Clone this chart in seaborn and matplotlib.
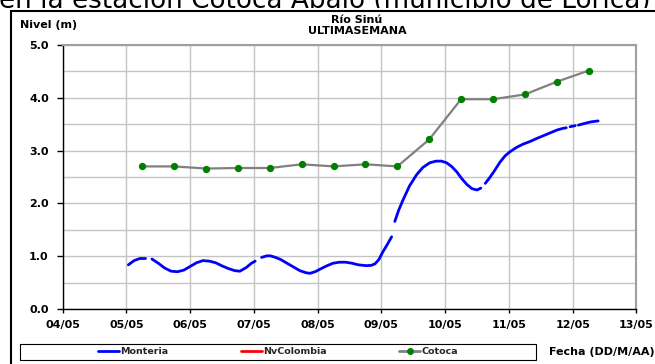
import numpy as np
import pandas as pd
import matplotlib
matplotlib.use("Agg")
import matplotlib.pyplot as plt
from matplotlib.patches import Rectangle
from matplotlib.lines import Line2D
import seaborn as sns

# Days of May shown on the x axis
day_ticks = [4, 5, 6, 7, 8, 9, 10, 11, 12, 13]
day_labels = ["04/05", "05/05", "06/05", "07/05", "08/05",
              "09/05", "10/05", "11/05", "12/05", "13/05"]
level_ticks = [0, 1, 2, 3, 4, 5]
level_labels = ["0.0", "1.0", "2.0", "3.0", "4.0", "5.0"]

# Montería gauge: fractional day, level (m), and run id (a new run after each gap)
mon_day = [5.03, 5.12, 5.21, 5.30,
           5.40, 5.50, 5.60, 5.70, 5.80, 5.90, 6.00, 6.10, 6.20, 6.30, 6.40,
           6.50, 6.60, 6.70, 6.78, 6.88, 6.96, 7.02,
           7.12, 7.20, 7.26, 7.34, 7.42, 7.52, 7.62, 7.72, 7.82, 7.88, 7.96,
           8.04, 8.14, 8.24, 8.34, 8.44, 8.54, 8.64, 8.76, 8.84, 8.90, 8.96,
           9.02, 9.09, 9.16,
           9.21, 9.27, 9.34, 9.44, 9.55, 9.65, 9.76, 9.86, 9.94, 10.02, 10.10,
           10.18, 10.26, 10.34, 10.42, 10.50, 10.56,
           10.63, 10.70, 10.78, 10.86, 10.94, 11.02, 11.12, 11.22, 11.33, 11.44,
           11.54, 11.66, 11.76, 11.85, 11.90,
           11.96, 12.04,
           12.09, 12.18, 12.28, 12.40]
mon_level = [0.84, 0.92, 0.96, 0.96,
             0.95, 0.87, 0.78, 0.72, 0.71, 0.74, 0.81, 0.88, 0.92, 0.91, 0.88,
             0.82, 0.77, 0.73, 0.72, 0.79, 0.87, 0.91,
             0.98, 1.01, 1.01, 0.98, 0.94, 0.87, 0.80, 0.73, 0.69, 0.68, 0.71,
             0.76, 0.82, 0.87, 0.89, 0.89, 0.87, 0.84, 0.825, 0.83, 0.86, 0.94,
             1.08, 1.22, 1.37,
             1.66, 1.87, 2.07, 2.33, 2.54, 2.68, 2.77, 2.80, 2.80, 2.77, 2.70,
             2.60, 2.47, 2.36, 2.28, 2.255, 2.29,
             2.38, 2.49, 2.63, 2.78, 2.90, 2.98, 3.06, 3.12, 3.17, 3.23,
             3.28, 3.34, 3.39, 3.42, 3.43,
             3.45, 3.47,
             3.48, 3.51, 3.54, 3.56]
mon_run = ([1] * 4 + [2] * 18 + [3] * 25 + [4] * 17 + [5] * 15 + [6] * 2 + [7] * 4)

# Cotoca gauge: readings at 06:00 and 18:00
cot_day = [5.25, 5.75, 6.25, 6.75, 7.25, 7.75, 8.25, 8.75,
           9.25, 9.75, 10.25, 10.75, 11.25, 11.75, 12.25]
cot_level = [2.70, 2.70, 2.66, 2.67, 2.67, 2.74, 2.70, 2.74,
             2.70, 3.21, 3.97, 3.97, 4.06, 4.30, 4.51]

series_names = ["Monteria", "NvColombia", "Cotoca"]
series_colors = ["#0000ff", "#ff0000", "#808080"]
marker_color = "#008000"

sns.set_theme(style="white")
plt.rcParams["font.family"] = ["DejaVu Sans"]

W, H = 655, 364
fig = plt.figure(figsize=(W / 100, H / 100), dpi=100)
fig.patch.set_facecolor("white")


def fx(px):
    return px / W


def fy(py):
    return 1 - py / H


# Page heading above the chart, partly hidden by the chart frame
fig.text(fx(-1), fy(8.5), "en la estación Cotoca Abajo (municipio de Lorica)",
         fontsize=18.9, ha="left", va="baseline", color="black", zorder=1)
fig.add_artist(Rectangle((0, 0), 1, fy(8.3), transform=fig.transFigure,
                         facecolor="white", edgecolor="none", zorder=2))
fig.add_artist(Rectangle((fx(11), -0.1), 1.2, fy(11) + 0.1, transform=fig.transFigure,
                         fill=False, edgecolor="black", lw=1.5, zorder=2.5))

ax = fig.add_axes([fx(62.7), fy(309.3), fx(636.4) - fx(62.7), fy(44.7) - fy(309.3)])
ax.set_zorder(5)
ax.set_facecolor("white")

mon_df = pd.DataFrame({"day": mon_day, "level": mon_level, "run": mon_run})
sns.lineplot(data=mon_df, x="day", y="level", units="run", estimator=None,
             color=series_colors[0], lw=2, ax=ax, legend=False)

cot_df = pd.DataFrame({"day": cot_day, "level": cot_level})
sns.lineplot(data=cot_df, x="day", y="level", color=series_colors[2], lw=1.6,
             marker="o", markersize=4.5, markerfacecolor=marker_color,
             markeredgecolor=marker_color, ax=ax, legend=False)

ax.set_xlim(day_ticks[0], day_ticks[-1])
ax.set_ylim(level_ticks[0], level_ticks[-1])
ax.set_xticks(day_ticks, day_labels)
ax.set_yticks(level_ticks, level_labels)
ax.set_yticks(np.arange(0.5, 5, 1.0), minor=True)
ax.set_axisbelow(True)
ax.grid(which="both", axis="y", color="#c4c4c4", lw=1)
ax.grid(which="major", axis="x", color="#c4c4c4", lw=1)
ax.tick_params(which="minor", length=0)
ax.tick_params(axis="y", which="major", left=True, direction="out", length=4,
               width=1, color="black", labelsize=8, pad=6, labelcolor="black")
ax.tick_params(axis="x", which="major", bottom=True, direction="out", length=3,
               width=1, color="black", labelsize=8, pad=5, labelcolor="black")
for lbl in ax.get_xticklabels() + ax.get_yticklabels():
    lbl.set_fontweight("bold")
ax.set_xlabel("")
ax.set_ylabel("")
for side in ["left", "bottom"]:
    ax.spines[side].set_color("black")
    ax.spines[side].set_linewidth(1)
for side in ["top", "right"]:
    ax.spines[side].set_color("#a0a0a0")
    ax.spines[side].set_linewidth(1.5)

bold = dict(fontsize=8, fontweight="bold", color="black", zorder=6)
fig.text(fx(20), fy(25), "Nivel (m)", ha="left", va="center", **bold)
fig.text(fx(357), fy(20), "Río Sinú", ha="center", va="center", **bold)
fig.text(fx(357), fy(31), "ULTIMASEMANA", ha="center", va="center", **bold)
fig.text(fx(549), fy(352), "Fecha (DD/M/AA)", ha="left", va="center", **bold)

# Legend strip along the bottom
fig.add_artist(Rectangle((fx(20), fy(360)), fx(536) - fx(20), fy(344) - fy(360),
                         transform=fig.transFigure, facecolor="white",
                         edgecolor="black", lw=0.8, zorder=6))
handles = [
    Line2D([], [], color=series_colors[0], lw=2),
    Line2D([], [], color=series_colors[1], lw=2),
    Line2D([], [], color=series_colors[2], lw=2, marker="o", markersize=4,
           markerfacecolor=marker_color, markeredgecolor=marker_color),
]
leg = fig.legend(handles, series_names, loc="center",
                 bbox_to_anchor=(fx(278), fy(352)), ncol=3, frameon=False,
                 handlelength=2.2, handletextpad=0.15, columnspacing=7.7,
                 borderpad=0, borderaxespad=0,
                 prop={"weight": "bold", "size": 6.8})
leg.set_zorder(7)

fig.savefig("out.png", dpi=100)
